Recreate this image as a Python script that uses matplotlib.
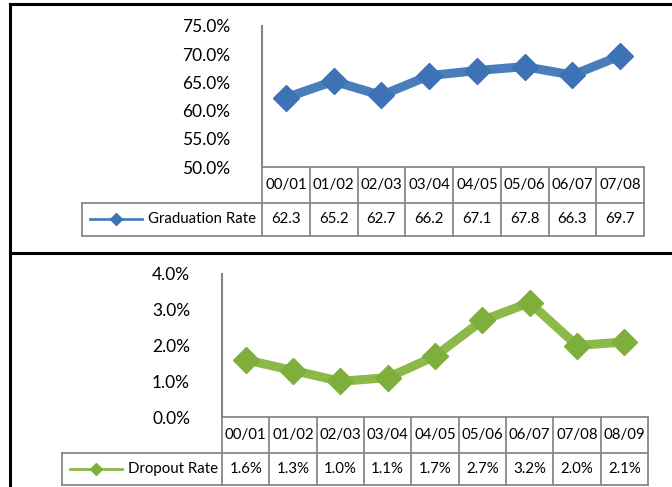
import numpy as np
import matplotlib.pyplot as plt
from matplotlib.lines import Line2D
from matplotlib.transforms import blended_transform_factory

# data
grad_years = ['00/01', '01/02', '02/03', '03/04', '04/05', '05/06', '06/07', '07/08']
grad_rate = [62.3, 65.2, 62.7, 66.2, 67.1, 67.8, 66.3, 69.7]

drop_years = ['00/01', '01/02', '02/03', '03/04', '04/05', '05/06', '06/07', '07/08', '08/09']
drop_rate = [1.6, 1.3, 1.0, 1.1, 1.7, 2.7, 3.2, 2.0, 2.1]

plt.rcParams['font.family'] = ['Lato', 'DejaVu Sans']

W, H = 672, 487
fig = plt.figure(figsize=(W / 100, H / 100), dpi=100)


def fx(px):
    return px / W


def fy(py):
    return 1 - py / H


GRID = '#878787'


def panel(years, values, name, fmt, color, mcolor, ylim, step,
          left, right, top, bottom, head_bot, data_bot, leg_left, leg_line):
    ax = fig.add_axes([fx(left), fy(bottom), fx(right - left), (bottom - top) / H])
    n = len(values)
    x = np.arange(n)
    ax.plot(x, values, color=color, lw=6.5, marker='D', ms=13.5,
            mfc=mcolor, mec=mcolor, mew=1, solid_capstyle='round', clip_on=False)
    ax.set_xlim(-0.5, n - 0.5)
    ax.set_ylim(*ylim)
    ticks = np.arange(ylim[0], ylim[1] + step / 2, step)
    ax.set_yticks(ticks)
    ax.set_yticklabels([f'{t:.1f}%' for t in ticks])
    ax.set_xticks([])
    ax.tick_params(axis='y', length=0, pad=23, labelsize=12.5)
    for s in ['top', 'right']:
        ax.spines[s].set_visible(False)
    ax.spines['left'].set_color('#868686')
    ax.spines['left'].set_linewidth(1.5)
    ax.spines['bottom'].set_color(GRID)
    ax.spines['bottom'].set_linewidth(1.3)

    # data table under the axis
    tr = blended_transform_factory(ax.transData, fig.transFigure)
    for i in range(n + 1):
        fig.add_artist(Line2D([i - 0.5, i - 0.5], [fy(bottom), fy(data_bot)],
                              transform=tr, color=GRID, lw=1.3))
    for i, (yr, v) in enumerate(zip(years, values)):
        fig.text(i, fy((bottom + head_bot) / 2), yr, transform=tr,
                 ha='center', va='center', fontsize=10.8)
        fig.text(i, fy((head_bot + data_bot) / 2), fmt(v), transform=tr,
                 ha='center', va='center', fontsize=10.8)
    for yy in [head_bot, data_bot]:
        fig.add_artist(Line2D([fx(leg_left), fx(right)], [fy(yy), fy(yy)],
                              color=GRID, lw=1.3))
    fig.add_artist(Line2D([fx(leg_left), fx(leg_left)], [fy(head_bot), fy(data_bot)],
                          color=GRID, lw=1.3))

    # legend key inside the table
    ym = fy((head_bot + data_bot) / 2)
    a, b = leg_line
    fig.add_artist(Line2D([fx(a), fx(b)], [ym, ym], color=color, lw=2))
    fig.add_artist(Line2D([fx((a + b) / 2)], [ym], marker='D', ms=6,
                          color=mcolor, mec=mcolor))
    fig.text(fx(b + 6), ym, name, ha='left', va='center', fontsize=10.8)
    return ax


panel(grad_years, grad_rate, 'Graduation Rate', lambda v: f'{v:.1f}',
      '#4a7ebb', '#3d72b6', (50, 75), 5,
      262, 644, 26, 167, 203, 236, 82, (90, 142))

panel(drop_years, drop_rate, 'Dropout Rate', lambda v: f'{v:.1f}%',
      '#8db84a', '#7eae3c', (0, 4), 1,
      222, 648, 274, 417, 453, 485, 62, (70, 122))

# panel frames
fig.add_artist(Line2D([fx(10), fx(10)], [fy(4), fy(H + 5)], color='black', lw=2.2))
fig.add_artist(Line2D([fx(10), fx(W + 5)], [fy(4), fy(4)], color='black', lw=2.2))
fig.add_artist(Line2D([fx(10), fx(W + 5)], [fy(253), fy(253)], color='black', lw=2.2))

fig.savefig('out.png', dpi=100)
